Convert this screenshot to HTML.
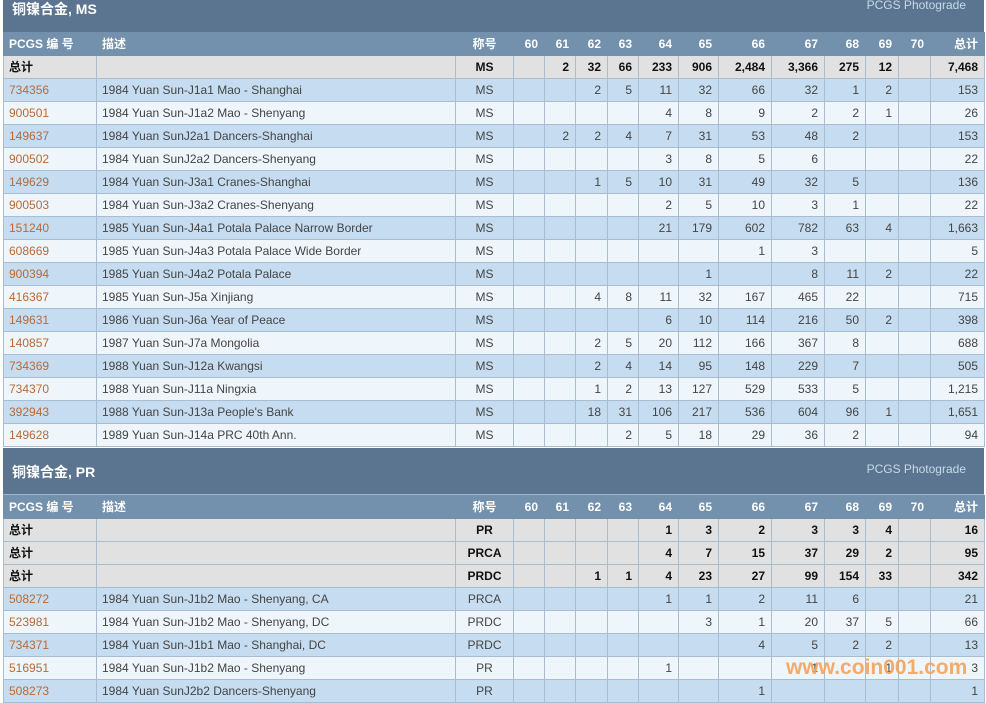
<!DOCTYPE html>
<html><head><meta charset="utf-8"><style>
body{margin:0;width:986px;height:700px;overflow:hidden;background:#fff;font-family:"Liberation Sans","Noto Sans CJK SC",sans-serif;font-size:12px;color:#444;position:relative}
.band{position:absolute;left:3px;width:981px;background:#5b7590;color:#fff;border-bottom:1px solid #9fb6cb}
.band .t{position:absolute;left:9px;font-size:14px;font-weight:bold}
.band .p{position:absolute;right:18px;font-size:12px;color:#c8d8e8}
table{position:absolute;left:3px;border-collapse:collapse;table-layout:fixed;width:981px}
td{height:22px;padding:0 6px 0 0;border:1px solid #a9bdd0;text-align:right;white-space:nowrap;overflow:hidden;line-height:22px}
td:nth-child(1),td:nth-child(2){text-align:left;padding-left:5px}
td:nth-child(3){text-align:center;padding:0}
tr.h td{background:#7391ac;color:#fff;font-weight:bold;border-color:#7391ac}
tr.s td{background:#e1e1e1;color:#111;font-weight:bold}
tr.a td{background:#c6ddf1}
tr.b td{background:#eef5fb}
td a{color:#b86a36;text-decoration:none}
.wm{position:absolute;left:786px;top:656px;font-size:21px;font-weight:bold;color:#f4a458;opacity:.9;letter-spacing:0}
</style></head><body>
<div class="band" style="top:0;height:32px"><span class="t" style="top:-1px">铜镍合金, MS</span><span class="p" style="top:-2px">PCGS Photograde</span></div>
<table style="top:32px">
<colgroup><col style="width:93px"><col style="width:359px"><col style="width:58px"><col style="width:31px"><col style="width:31px"><col style="width:32px"><col style="width:31px"><col style="width:40px"><col style="width:40px"><col style="width:53px"><col style="width:53px"><col style="width:41px"><col style="width:33px"><col style="width:32px"><col style="width:54px"></colgroup>
<tr class="h"><td>PCGS 编 号</td><td>描述</td><td>称号</td><td>60</td><td>61</td><td>62</td><td>63</td><td>64</td><td>65</td><td>66</td><td>67</td><td>68</td><td>69</td><td>70</td><td>总计</td></tr>
<tr class="s"><td>总计</td><td></td><td>MS</td><td></td><td>2</td><td>32</td><td>66</td><td>233</td><td>906</td><td>2,484</td><td>3,366</td><td>275</td><td>12</td><td></td><td>7,468</td></tr>
<tr class="a"><td><a>734356</a></td><td>1984 Yuan Sun-J1a1 Mao - Shanghai</td><td>MS</td><td></td><td></td><td>2</td><td>5</td><td>11</td><td>32</td><td>66</td><td>32</td><td>1</td><td>2</td><td></td><td>153</td></tr>
<tr class="b"><td><a>900501</a></td><td>1984 Yuan Sun-J1a2 Mao - Shenyang</td><td>MS</td><td></td><td></td><td></td><td></td><td>4</td><td>8</td><td>9</td><td>2</td><td>2</td><td>1</td><td></td><td>26</td></tr>
<tr class="a"><td><a>149637</a></td><td>1984 Yuan SunJ2a1 Dancers-Shanghai</td><td>MS</td><td></td><td>2</td><td>2</td><td>4</td><td>7</td><td>31</td><td>53</td><td>48</td><td>2</td><td></td><td></td><td>153</td></tr>
<tr class="b"><td><a>900502</a></td><td>1984 Yuan SunJ2a2 Dancers-Shenyang</td><td>MS</td><td></td><td></td><td></td><td></td><td>3</td><td>8</td><td>5</td><td>6</td><td></td><td></td><td></td><td>22</td></tr>
<tr class="a"><td><a>149629</a></td><td>1984 Yuan Sun-J3a1 Cranes-Shanghai</td><td>MS</td><td></td><td></td><td>1</td><td>5</td><td>10</td><td>31</td><td>49</td><td>32</td><td>5</td><td></td><td></td><td>136</td></tr>
<tr class="b"><td><a>900503</a></td><td>1984 Yuan Sun-J3a2 Cranes-Shenyang</td><td>MS</td><td></td><td></td><td></td><td></td><td>2</td><td>5</td><td>10</td><td>3</td><td>1</td><td></td><td></td><td>22</td></tr>
<tr class="a"><td><a>151240</a></td><td>1985 Yuan Sun-J4a1 Potala Palace Narrow Border</td><td>MS</td><td></td><td></td><td></td><td></td><td>21</td><td>179</td><td>602</td><td>782</td><td>63</td><td>4</td><td></td><td>1,663</td></tr>
<tr class="b"><td><a>608669</a></td><td>1985 Yuan Sun-J4a3 Potala Palace Wide Border</td><td>MS</td><td></td><td></td><td></td><td></td><td></td><td></td><td>1</td><td>3</td><td></td><td></td><td></td><td>5</td></tr>
<tr class="a"><td><a>900394</a></td><td>1985 Yuan Sun-J4a2 Potala Palace</td><td>MS</td><td></td><td></td><td></td><td></td><td></td><td>1</td><td></td><td>8</td><td>11</td><td>2</td><td></td><td>22</td></tr>
<tr class="b"><td><a>416367</a></td><td>1985 Yuan Sun-J5a Xinjiang</td><td>MS</td><td></td><td></td><td>4</td><td>8</td><td>11</td><td>32</td><td>167</td><td>465</td><td>22</td><td></td><td></td><td>715</td></tr>
<tr class="a"><td><a>149631</a></td><td>1986 Yuan Sun-J6a Year of Peace</td><td>MS</td><td></td><td></td><td></td><td></td><td>6</td><td>10</td><td>114</td><td>216</td><td>50</td><td>2</td><td></td><td>398</td></tr>
<tr class="b"><td><a>140857</a></td><td>1987 Yuan Sun-J7a Mongolia</td><td>MS</td><td></td><td></td><td>2</td><td>5</td><td>20</td><td>112</td><td>166</td><td>367</td><td>8</td><td></td><td></td><td>688</td></tr>
<tr class="a"><td><a>734369</a></td><td>1988 Yuan Sun-J12a Kwangsi</td><td>MS</td><td></td><td></td><td>2</td><td>4</td><td>14</td><td>95</td><td>148</td><td>229</td><td>7</td><td></td><td></td><td>505</td></tr>
<tr class="b"><td><a>734370</a></td><td>1988 Yuan Sun-J11a Ningxia</td><td>MS</td><td></td><td></td><td>1</td><td>2</td><td>13</td><td>127</td><td>529</td><td>533</td><td>5</td><td></td><td></td><td>1,215</td></tr>
<tr class="a"><td><a>392943</a></td><td>1988 Yuan Sun-J13a People's Bank</td><td>MS</td><td></td><td></td><td>18</td><td>31</td><td>106</td><td>217</td><td>536</td><td>604</td><td>96</td><td>1</td><td></td><td>1,651</td></tr>
<tr class="b"><td><a>149628</a></td><td>1989 Yuan Sun-J14a PRC 40th Ann.</td><td>MS</td><td></td><td></td><td></td><td>2</td><td>5</td><td>18</td><td>29</td><td>36</td><td>2</td><td></td><td></td><td>94</td></tr>
</table>
<div class="band" style="top:448px;height:46px"><span class="t" style="top:14px">铜镍合金, PR</span><span class="p" style="top:14px">PCGS Photograde</span></div>
<table style="top:495px">
<colgroup><col style="width:93px"><col style="width:359px"><col style="width:58px"><col style="width:31px"><col style="width:31px"><col style="width:32px"><col style="width:31px"><col style="width:40px"><col style="width:40px"><col style="width:53px"><col style="width:53px"><col style="width:41px"><col style="width:33px"><col style="width:32px"><col style="width:54px"></colgroup>
<tr class="h"><td>PCGS 编 号</td><td>描述</td><td>称号</td><td>60</td><td>61</td><td>62</td><td>63</td><td>64</td><td>65</td><td>66</td><td>67</td><td>68</td><td>69</td><td>70</td><td>总计</td></tr>
<tr class="s"><td>总计</td><td></td><td>PR</td><td></td><td></td><td></td><td></td><td>1</td><td>3</td><td>2</td><td>3</td><td>3</td><td>4</td><td></td><td>16</td></tr>
<tr class="s"><td>总计</td><td></td><td>PRCA</td><td></td><td></td><td></td><td></td><td>4</td><td>7</td><td>15</td><td>37</td><td>29</td><td>2</td><td></td><td>95</td></tr>
<tr class="s"><td>总计</td><td></td><td>PRDC</td><td></td><td></td><td>1</td><td>1</td><td>4</td><td>23</td><td>27</td><td>99</td><td>154</td><td>33</td><td></td><td>342</td></tr>
<tr class="a"><td><a>508272</a></td><td>1984 Yuan Sun-J1b2 Mao - Shenyang, CA</td><td>PRCA</td><td></td><td></td><td></td><td></td><td>1</td><td>1</td><td>2</td><td>11</td><td>6</td><td></td><td></td><td>21</td></tr>
<tr class="b"><td><a>523981</a></td><td>1984 Yuan Sun-J1b2 Mao - Shenyang, DC</td><td>PRDC</td><td></td><td></td><td></td><td></td><td></td><td>3</td><td>1</td><td>20</td><td>37</td><td>5</td><td></td><td>66</td></tr>
<tr class="a"><td><a>734371</a></td><td>1984 Yuan Sun-J1b1 Mao - Shanghai, DC</td><td>PRDC</td><td></td><td></td><td></td><td></td><td></td><td></td><td>4</td><td>5</td><td>2</td><td>2</td><td></td><td>13</td></tr>
<tr class="b"><td><a>516951</a></td><td>1984 Yuan Sun-J1b2 Mao - Shenyang</td><td>PR</td><td></td><td></td><td></td><td></td><td>1</td><td></td><td></td><td>1</td><td></td><td>1</td><td></td><td>3</td></tr>
<tr class="a"><td><a>508273</a></td><td>1984 Yuan SunJ2b2 Dancers-Shenyang</td><td>PR</td><td></td><td></td><td></td><td></td><td></td><td></td><td>1</td><td></td><td></td><td></td><td></td><td>1</td></tr>
</table>
<div class="wm">www.coin001.com</div>
</body></html>
